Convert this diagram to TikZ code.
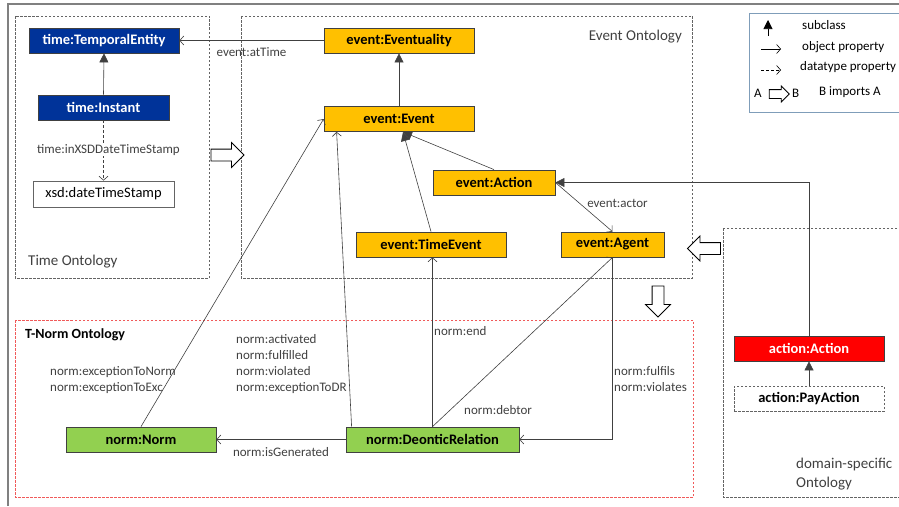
\documentclass[tikz,border=0pt]{standalone}
\usepackage{fontspec}
\setmainfont{Carlito}
\usetikzlibrary{arrows.meta,shapes.arrows}

\definecolor{timeblue}{RGB}{0,51,153}
\definecolor{evorange}{RGB}{255,192,0}
\definecolor{normgreen}{RGB}{146,208,80}
\definecolor{actred}{RGB}{255,0,0}
\definecolor{edgegray}{RGB}{64,64,64}
\definecolor{boxgray}{RGB}{100,100,100}
\definecolor{normred}{RGB}{240,90,90}
\definecolor{legendblue}{RGB}{127,157,185}

\tikzset{
  cls/.style={draw=edgegray, line width=0.8pt, minimum height=25pt, inner sep=0pt,
    font=\fontsize{14.5}{16}\selectfont\bfseries},
  lbl/.style={font=\fontsize{13}{16}\selectfont, text=edgegray, inner sep=0pt, align=left},
  ttl/.style={font=\fontsize{15}{19}\selectfont, text=edgegray, inner sep=0pt, align=left},
  obj/.style={draw=edgegray, line width=0.6pt, -{Straight Barb[length=4pt,width=9pt]}},
  sub/.style={draw=edgegray, line width=0.6pt, -{Triangle[length=9pt,width=9pt]}},
  dtp/.style={obj, dash pattern=on 3pt off 2pt},
  imp/.style={single arrow, draw=black, line width=0.8pt, fill=white, inner xsep=0pt,
    single arrow head extend=6.5pt, inner ysep=5.5pt, minimum height=33pt},
  onto/.style={draw=boxgray, line width=0.6pt, dash pattern=on 2.5pt off 1.5pt}
}

\begin{document}
\begin{tikzpicture}[x=1pt,y=-1pt]
  \useasboundingbox (0,0) rectangle (899,506);

  % frame and ontology boxes
  \draw[gray, line width=1.2pt] (8,506) -- (8,4) -- (905,4);
  \draw[onto] (15,16) rectangle (209,278);
  \draw[onto] (241,16) rectangle (692,278);
  \draw[onto, draw=normred] (15,320) rectangle (693,497);
  \draw[onto] (723,228) rectangle (905,497);
  \draw[legendblue, line width=0.8pt] (749,13) rectangle (905,112);

  \node[ttl, anchor=west] (ttime) at (28,262) {Time Ontology};
  \node[ttl, anchor=east] (tevent) at (682,37) {Event Ontology};
  \node[ttl, anchor=west, font=\fontsize{14}{19}\selectfont\bfseries, text=black] (tnorm) at (25,335) {T-Norm Ontology};
  \node[ttl, anchor=west] (tdom) at (796,474) {domain-specific\\Ontology};

  % classes
  \begin{scope}[every node/.style={cls}]
    \node[fill=timeblue, text=white, minimum width=150pt] (te) at (104,40.5) {time:TemporalEntity};
    \node[fill=timeblue, text=white, minimum width=131pt] (ti) at (103.5,107.5) {time:Instant};
    \node[draw=boxgray, fill=white, font=\fontsize{14.5}{16}\selectfont, minimum width=141pt, minimum height=26pt] (xsd) at (103.5,194) {xsd:dateTimeStamp};

    \node[fill=evorange, minimum width=150pt] (evy) at (399,40.5) {event:Eventuality};
    \node[fill=evorange, minimum width=150pt] (ev)  at (399,119) {event:Event};
    \node[fill=evorange, minimum width=122pt] (act) at (494,182.5) {event:Action};
    \node[fill=evorange, minimum width=150pt] (tev) at (431,244.5) {event:TimeEvent};
    \node[fill=evorange, minimum width=103pt] (ag)  at (612.5,244.5) {event:Agent};

    \node[fill=normgreen, minimum width=150pt] (nn) at (141,439.5) {norm:Norm};
    \node[fill=normgreen, minimum width=173pt] (dr) at (432.5,439.5) {norm:DeonticRelation};

    \node[fill=actred, text=white, minimum width=150pt] (aa) at (809,348.5) {action:Action};
    \node[onto, fill=white, minimum width=150pt] (pa) at (809,398.5) {action:PayAction};
  \end{scope}

  % import arrows
  \node[imp] (imp1) at (224.5,155) {};
  \node[imp, rotate=180] (imp2) at (707,248.5) {};
  \node[imp, rotate=-90, minimum height=31pt] (imp3) at (658,298.5) {};

  % properties
  \coordinate (evtip) at (403,132);
  \path (ti.north) edge[sub] (te.south);
  \path (ti.south) edge[dtp] node[lbl, fill=white, xshift=5pt] (linst) {time:inXSDDateTimeStamp} (xsd.north);
  \path (evy.west) edge[obj] node[lbl, below=7pt] (lat) {event:atTime} (te.east);
  \path (ev.north) edge[sub] (evy.south);
  \path (tev.north) edge[sub] (evtip);
  \path (act.north) edge[sub] (evtip);
  \path (act.east) edge[obj] node[lbl, anchor=west, xshift=3pt, yshift=4pt] (lact) {event:actor} (ag.north);
  \path (aa.north) edge[sub, to path={|- (\tikztotarget)}] (act.east);
  \path (pa.north) edge[sub] (aa.south);

  \path (nn.north) edge[obj] (ev.west);
  \path ([xshift=6pt]dr.north west) edge[obj] ([xshift=13pt]ev.south west);
  \path (dr.north) edge[obj] (dr.north |- tev.south);
  \path (dr.north) edge[obj] (ag.south);
  \path (ag.south) edge[obj, to path={|- (\tikztotarget)}] (dr.east);
  \path (dr.west) edge[obj] node[lbl, below=8pt] (lgen) {norm:isGenerated} (nn.east);

  \begin{scope}[every node/.style={lbl, anchor=west}]
    \node (lexc) at (50,380) {norm:exceptionToNorm\\norm:exceptionToExc};
    \node (lstate) at (236,364) {norm:activated\\norm:fulfilled\\norm:violated\\norm:exceptionToDR};
    \node (lend) at (434,331) {norm:end};
    \node (ldeb) at (464,410) {norm:debtor};
    \node (lful) at (614,379) {norm:fulfils\\norm:violates};
  \end{scope}

  % legend
  \coordinate (s1) at (768,36);
  \coordinate (s2) at (768,20);
  \coordinate (o1) at (761,49);
  \coordinate (o2) at (781,49);
  \coordinate (d1) at (761,70);
  \coordinate (d2) at (781,70);
  \draw[sub, draw=black] (s1) -- (s2);
  \draw[obj, draw=black] (o1) -- (o2);
  \draw[dtp, draw=black] (d1) -- (d2);
  \node[imp, minimum height=20pt, single arrow head extend=3.5pt, inner ysep=4pt] (impl) at (777,94) {};
  \begin{scope}[every node/.style={lbl, text=black, anchor=west}]
    \node (lsub) at (802,25) {subclass};
    \node (lobj) at (802,47) {object property};
    \node (ldat) at (800,67) {datatype property};
    \node (la) at (754,93) {A};
    \node (lb) at (792,93) {B};
    \node (limp) at (819,92) {B imports A};
  \end{scope}

\end{tikzpicture}
\end{document}
